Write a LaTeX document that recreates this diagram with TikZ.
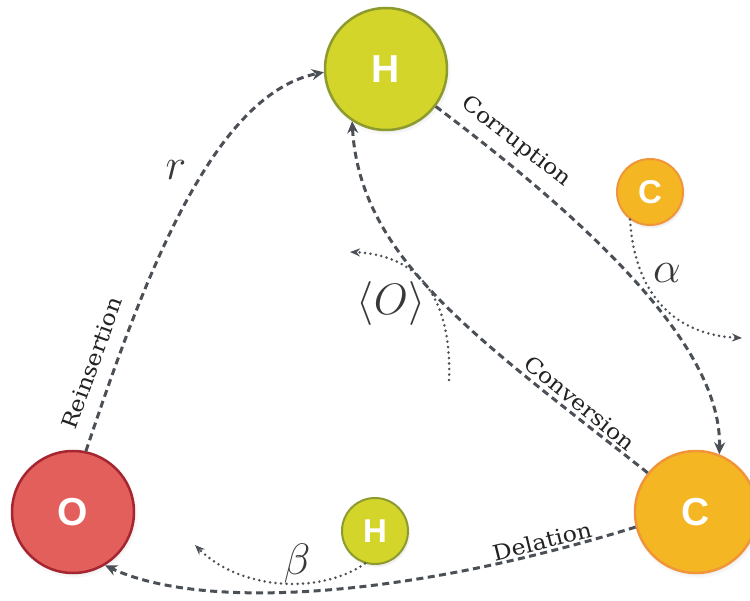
\RequirePackage{fix-cm}
\documentclass[tikz,border=0pt]{standalone}
\usepackage{fontspec}
\newfontfamily\circfont{Liberation Sans}
\newfontfamily\labfont[FakeStretch=1.1]{DejaVu Serif}
\usetikzlibrary{arrows.meta,shadows}
\definecolor{hfill}{HTML}{D3D52A}
\definecolor{hdraw}{HTML}{8D9A2E}
\definecolor{ofill}{HTML}{E35F5C}
\definecolor{odraw}{HTML}{A52530}
\definecolor{cfill}{HTML}{F4B623}
\definecolor{cdraw}{HTML}{F0953A}
\definecolor{linec}{HTML}{4B4F56}
\definecolor{textc}{HTML}{222222}
\tikzset{
  atom/.style={circle, inner sep=0pt, line width=2.5pt, text=white, font=\circfont\bfseries,
    circular drop shadow={shadow xshift=1pt, shadow yshift=-2pt, shadow scale=1.05, opacity=0.25}},
  bigatom/.style={atom, minimum size=122pt, font=\circfont\bfseries\fontsize{39}{39}\selectfont},
  smallatom/.style={atom, minimum size=66pt, line width=2pt, font=\circfont\bfseries\fontsize{33}{33}\selectfont},
  hatom/.style={fill=hfill, draw=hdraw},
  oatom/.style={fill=ofill, draw=odraw},
  catom/.style={fill=cfill, draw=cdraw},
  flow/.style={draw=linec, line width=3pt, dash pattern=on 7pt off 4.5pt, -{Stealth[length=12pt,width=11pt]}},
  minor/.style={draw=linec, line width=2.8pt, line cap=round, dash pattern=on 0pt off 5.5pt, -{Stealth[length=10pt,width=8pt]}},
  lab/.style={text=textc, font=\labfont\fontsize{21.5}{21.5}\selectfont, inner sep=0pt},
  mlab/.style={text=textc!90, font=\fontsize{44}{44}\selectfont, inner sep=0pt}
}
\begin{document}
\begin{tikzpicture}[x=1pt,y=-1pt]
\useasboundingbox (0,0) rectangle (750,601);
% atoms
\node[bigatom,hatom] (Hbig) at (386,69) {H};
\node[bigatom,oatom] (Obig) at (73,512) {O};
\node[bigatom,catom] (Cbig) at (696,512) {C};
\node[smallatom,catom] (Csmall) at (650,192) {C};
\node[smallatom,hatom] (Hsmall) at (375,531) {H};
% free ends of the minor arrows
\coordinate (aend) at (742,338);
\coordinate (ostart) at (449,380);
\coordinate (oend) at (350,252);
\coordinate (bend) at (195,545);
% main transitions
\draw[flow] (Obig.78) .. controls (140,290) and (210,95) .. (Hbig.183);
\draw[flow] (Hbig.-37) .. controls (600,230) and (722,350) .. (Cbig.68);
\draw[flow] (Cbig.141) .. controls (480,340) and (360,260) .. (Hbig.237);
\draw[flow] (Cbig.194) .. controls (400,600) and (200,610) .. (Obig.-59);
% minor flows
\draw[minor] (Csmall.234) .. controls (635,300) and (680,335) .. (aend);
\draw[minor] (ostart) .. controls (452,300) and (420,255) .. (oend);
\draw[minor] (Hsmall.253) .. controls (320,595) and (240,590) .. (bend);
% labels
\node[lab, rotate=70] (lreins) at (92,363) {Reinsertion};
\node[lab, rotate=-38] (lcorr) at (516,142) {Corruption};
\node[lab, rotate=-39] (lconv) at (580,403) {Conversion};
\node[lab, rotate=14] (ldel) at (542,541) {Delation};
\node[mlab] (lr) at (176,170) {$r$};
\node[mlab] (lalpha) at (667,273) {$\alpha$};
\node[mlab] (lbeta) at (297,563) {$\beta$};
\node[mlab] (lO) at (391,304) {$\langle O\rangle$};
\end{tikzpicture}
\end{document}
